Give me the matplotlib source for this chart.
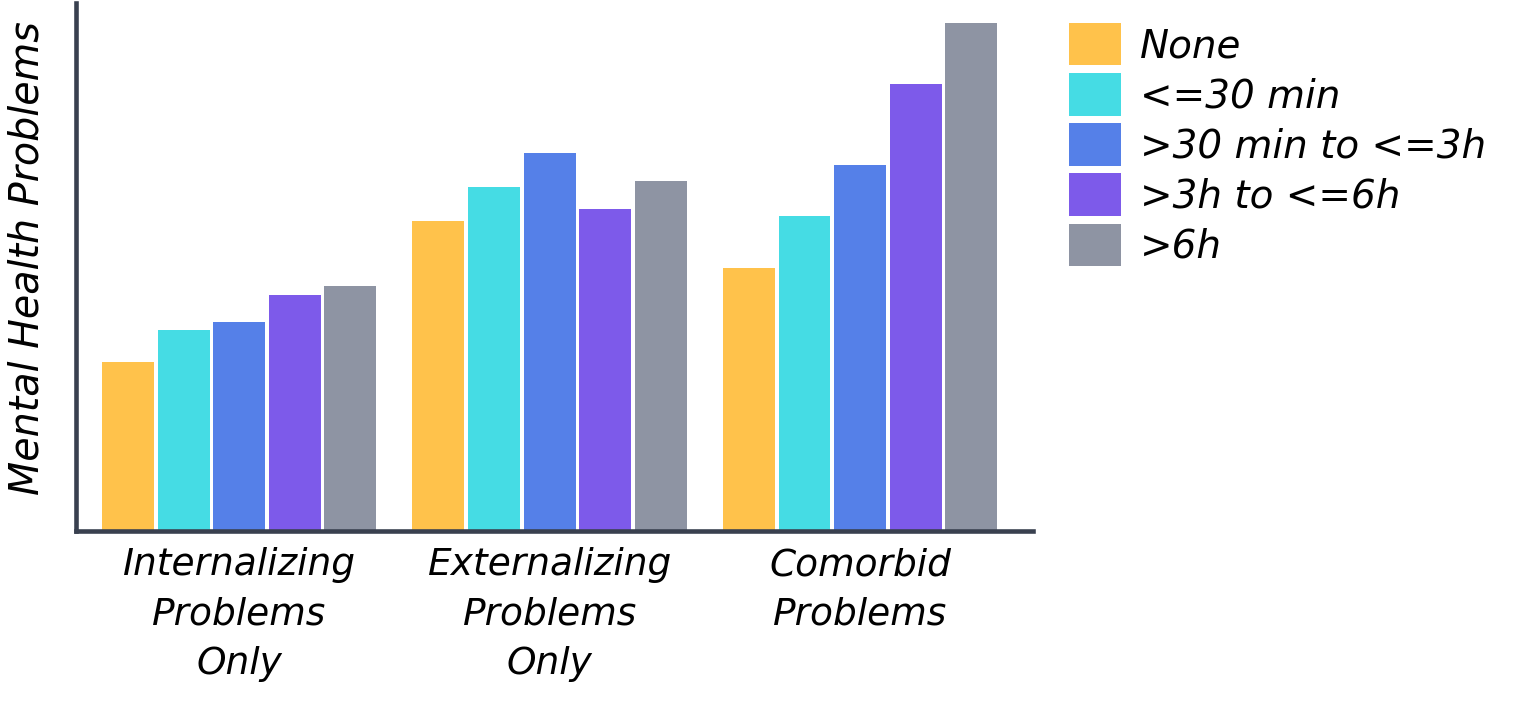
import matplotlib
matplotlib.use("Agg")
import matplotlib.pyplot as plt
import numpy as np

groups = ["Internalizing\nProblems\nOnly", "Externalizing\nProblems\nOnly", "Comorbid\nProblems"]
series = ["None", "<=30 min", ">30 min to <=3h", ">3h to <=6h", ">6h"]
colors = ["#FFC24B", "#45DCE4", "#5580E8", "#7D5AEA", "#8E94A3"]

# bar heights per series, one value per group
none_vals = [16.9, 31.0, 26.3]
le30_vals = [20.1, 34.4, 31.5]
to3h_vals = [20.9, 37.8, 36.6]
to6h_vals = [23.6, 32.2, 44.7]
gt6h_vals = [24.5, 35.0, 50.8]
values = [none_vals, le30_vals, to3h_vals, to6h_vals, gt6h_vals]

axis_color = "#39404F"
font = "DejaVu Sans"

fig = plt.figure(figsize=(15.14, 7.18), dpi=100)
ax = fig.add_axes([0.0499, 0.2611, 0.6324, 0.7347])

x = np.arange(len(groups))
slot = 0.179
for i, (name, vals) in enumerate(zip(series, values)):
    ax.bar(x + (i - 2) * slot, vals, width=slot * 0.935, color=colors[i], label=name)

ax.set_xlim(-0.527, 2.557)
ax.set_ylim(0, 52.75)

for side in ["top", "right"]:
    ax.spines[side].set_visible(False)
for side in ["left", "bottom"]:
    ax.spines[side].set_color(axis_color)
    ax.spines[side].set_linewidth(3.3)

ax.set_yticks([])
ax.set_xticks(x)
ax.set_xticklabels(groups, fontsize=27, family=font, style="italic", linespacing=1.47)
ax.tick_params(axis="x", length=0, pad=12)
ax.set_ylabel("Mental Health Problems", fontsize=28.5, family=font, style="italic")
ax.yaxis.set_label_coords(-0.03, 0.517)

fig.legend(loc="upper left", bbox_to_anchor=(0.706, 0.968), frameon=False,
           prop={"family": font, "style": "italic", "size": 28},
           handlelength=1.34, handleheight=1.30, handletextpad=0.49, labelspacing=0.2,
           borderaxespad=0, borderpad=0)

fig.savefig("out.png", dpi=100)
